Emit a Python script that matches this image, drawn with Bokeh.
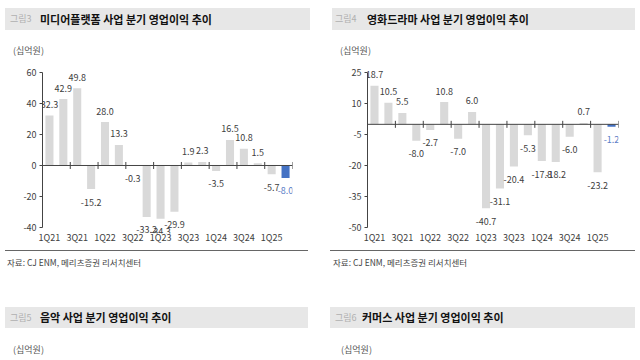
import math
from bokeh.plotting import figure
from bokeh.layouts import row, column
from bokeh.models import Range1d, FixedTicker, Span, ColumnDataSource, LabelSet, Div
from bokeh.core.properties import value
from bokeh.embed import file_html
from bokeh.resources import INLINE

# ---------------- data ----------------
quarters = ["1Q21", "2Q21", "3Q21", "4Q21", "1Q22", "2Q22", "3Q22", "4Q22",
            "1Q23", "2Q23", "3Q23", "4Q23", "1Q24", "2Q24", "3Q24", "4Q24",
            "1Q25", "2Q25"]
x_tick_labels = ["1Q21", "3Q21", "1Q22", "3Q22", "1Q23", "3Q23", "1Q24", "3Q24", "1Q25"]

media_platform = [32.3, 42.9, 49.8, -15.2, 28.0, 13.3, -0.3, -33.2, -34.3,
                  -29.9, 1.9, 2.3, -3.5, 16.5, 10.8, 1.5, -5.7, -8.0]
film_drama = [18.7, 10.5, 5.5, -8.0, -2.7, 10.8, -7.0, 6.0, -40.7,
              -31.1, -20.4, -5.3, -17.8, -18.2, -6.0, 0.7, -23.2, -1.2]

media_yticks = [-40, -20, 0, 20, 40, 60]
film_yticks = [-50, -35, -20, -5, 10, 25]

title_left = "미디어플랫폼 사업 분기 영업이익 추이"
title_right = "영화드라마 사업 분기 영업이익 추이"
title_bottom_left = "음악 사업 분기 영업이익 추이"
title_bottom_right = "커머스 사업 분기 영업이익 추이"
unit_text = "(십억원)"
source_text = "자료: CJ ENM, 메리츠증권 리서치센터"

# ---------------- style ----------------
FONT = "Noto Sans CJK KR"
GREY_BAR = "#d9d9d9"
BLUE_BAR = "#4472c4"
BLUE_TXT = "#5b80c8"
AXIS_C = "#444444"
TXT_C = "#404040"
BAND_C = "#e7e7e7"
COL_W = 320
HEAD_H = 64
CHART_H = 182
FOOT_H = 114


def span_html(left, top, h, size, color, s, bold=False):
    return (f'<span style="position:absolute;left:{left}px;top:{top}px;height:{h}px;'
            f'line-height:{h}px;font-size:{size}px;color:{color};white-space:nowrap;'
            f'font-weight:{"bold" if bold else "normal"};">{s}</span>')


def box_html(left, top, w, h, color):
    return (f'<div style="position:absolute;left:{left}px;top:{top}px;width:{w}px;'
            f'height:{h}px;background:{color};"></div>')


def wrap(inner, h):
    return (f'<div style="position:relative;width:{COL_W}px;height:{h}px;margin:0;padding:0;'
            f"font-family:'{FONT}';overflow:hidden;\">{inner}</div>")


def header(band_l, band_r, fig_x, title_x, unit_x, fig_no, title):
    inner = (box_html(band_l, 8, band_r - band_l, 22, BAND_C)
             + span_html(fig_x, 8, 22, 9, "#b0b0b0", fig_no)
             + span_html(title_x, 8, 22, 11, "#111111", title, bold=True)
             + span_html(unit_x, 45, 12, 9, "#555555", unit_text))
    return Div(text=wrap(inner, HEAD_H), width=COL_W, height=HEAD_H, margin=0,
               styles={"padding": "0", "margin": "0"})


def footer(line_l, line_r, src_x, fig_x, title_x, unit_x, fig_no, title):
    inner = (box_html(line_l, 4, line_r - line_l, 1, "#666666")
             + span_html(src_x, 10, 12, 8.5, "#444444", source_text)
             + box_html(line_l, 61, line_r - line_l, 21, BAND_C)
             + span_html(fig_x, 61, 21, 9, "#b0b0b0", fig_no)
             + span_html(title_x, 61, 21, 11, "#111111", title, bold=True)
             + span_html(unit_x, 98, 12, 9, "#555555", unit_text))
    return Div(text=wrap(inner, FOOT_H), width=COL_W, height=FOOT_H, margin=0,
               styles={"padding": "0", "margin": "0"})


def chart(values, yticks, ybottom, ytop, border_l, border_r):
    n = len(values)
    idx = list(range(n))
    p = figure(width=COL_W, height=CHART_H,
               x_range=Range1d(-0.5, n - 0.5),
               y_range=Range1d(ybottom, ytop),
               toolbar_location=None, output_backend="svg",
               min_border_left=border_l, min_border_right=border_r,
               min_border_top=0, min_border_bottom=13)
    p.grid.visible = False
    p.outline_line_color = None
    p.background_fill_color = "white"
    p.border_fill_color = "white"

    colors = [BLUE_BAR if i == n - 1 else GREY_BAR for i in idx]
    tcolors = [BLUE_TXT if i == n - 1 else TXT_C for i in idx]
    src = ColumnDataSource(dict(
        x=idx, top=values, color=colors, tcolor=tcolors,
        label=[f"{v:.1f}" for v in values],
        yoff=[11 if v >= 0 else -13 for v in values],
    ))
    p.vbar(x="x", top="top", bottom=0, width=0.58, fill_color="color",
           line_color=None, source=src)

    p.add_layout(Span(location=0, dimension="width", line_color=AXIS_C, line_width=1))
    bounds = [i + 0.5 for i in range(1, n, 2)]
    p.scatter(x=bounds, y=[0] * len(bounds), marker="dash", angle=math.pi / 2,
              size=7, line_color=AXIS_C, line_width=1)

    labels = LabelSet(x="x", y="top", text="label", source=src,
                      text_font=value(FONT), text_font_size="9px",
                      text_color="tcolor", text_align="center",
                      text_baseline="middle", y_offset="yoff")
    p.add_layout(labels)

    ya = p.yaxis[0]
    ya.ticker = FixedTicker(ticks=yticks)
    ya.major_label_overrides = {t: str(t) for t in yticks}
    ya.bounds = (min(yticks), max(yticks))
    ya.axis_line_color = AXIS_C
    ya.major_tick_line_color = AXIS_C
    ya.major_tick_out = 3
    ya.major_tick_in = 0
    ya.minor_tick_line_color = None
    ya.major_label_text_font = FONT
    ya.major_label_text_font_size = "9px"
    ya.major_label_text_color = TXT_C
    ya.major_label_standoff = 3

    xa = p.xaxis[0]
    pos = [quarters.index(q) for q in x_tick_labels]
    xa.ticker = FixedTicker(ticks=pos)
    xa.major_label_overrides = {i: quarters[i] for i in pos}
    xa.axis_line_color = None
    xa.major_tick_line_color = None
    xa.major_tick_out = 0
    xa.major_tick_in = 0
    xa.minor_tick_line_color = None
    xa.minor_tick_out = 0
    xa.major_label_text_font = FONT
    xa.major_label_text_font_size = "9px"
    xa.major_label_text_color = TXT_C
    xa.major_label_standoff = -3
    return p


left_col = column(
    header(5, 310, 10, 40, 13, "그림3", title_left),
    chart(media_platform, media_yticks, -43.9, 65.2, 42, 28),
    footer(5, 308, 7, 10, 40, 13, "그림5", title_bottom_left),
    spacing=0,
)
right_col = column(
    header(12, 315, 15, 47, 20, "그림4", title_right),
    chart(film_drama, film_yticks, -52.9, 29.0, 47, 22),
    footer(10, 315, 13, 15, 42, 21, "그림6", title_bottom_right),
    spacing=0,
)
layout = row(left_col, right_col, spacing=0)

open("out.html", "w").write(file_html(layout, INLINE))
